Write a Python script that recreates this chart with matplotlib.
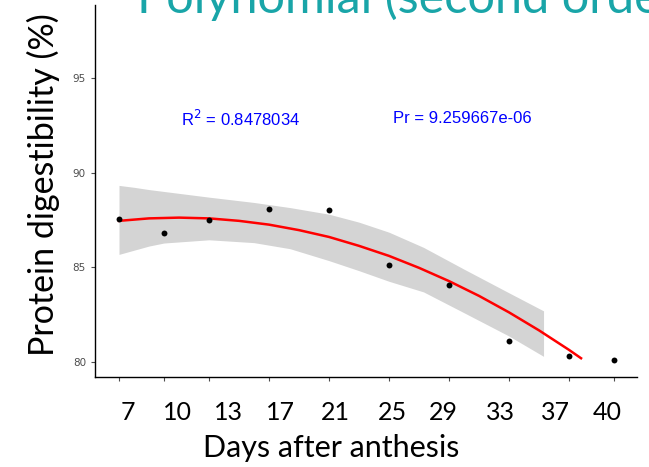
import matplotlib.pyplot as plt
import numpy as np

# observed points
days = [7, 10, 13, 17, 21, 25, 29, 33, 37, 40]
digest = [87.53, 86.79, 87.47, 88.1, 88.0, 85.1, 84.05, 81.1, 80.3, 80.1]

# fitted curve
fit_x = [7, 9, 11, 13, 15, 17, 19, 21, 23, 25, 27, 29, 31, 33, 35, 37, 37.8]
fit_y = [87.45, 87.58, 87.62, 87.58, 87.45, 87.25, 86.96, 86.6, 86.13, 85.6,
         84.97, 84.27, 83.49, 82.62, 81.67, 80.64, 80.2]

# confidence band
band_x = [7, 8, 9, 10, 13, 16, 18.4, 21, 23, 25, 27.3, 30, 33, 35.3]
band_hi = [89.32, 89.22, 89.1, 89.0, 88.7, 88.42, 88.15, 87.8, 87.38, 86.85, 86.05, 84.9, 83.65, 82.7]
band_lo = [85.68, 85.9, 86.12, 86.28, 86.45, 86.3, 85.98, 85.35, 84.82, 84.26, 83.7, 82.6, 81.37, 80.3]

big_labels = ["7", "10", "13", "17", "21", "25", "29", "33", "37", "40"]
big_label_px = [128, 177, 228, 280, 335, 392, 443, 500, 555, 607]

W, H = 649, 467
fig = plt.figure(figsize=(W / 100, H / 100), dpi=100)
ax = fig.add_axes([95 / W, 90 / H, (637 - 95) / W, (377 - 5) / H])

ax.fill_between(band_x, band_lo, band_hi, color='#d4d4d4', lw=0, zorder=1)
ax.plot(fit_x, fit_y, color='red', lw=1.8, zorder=2)
ax.scatter(days, digest, s=18, color='black', zorder=3, lw=0)

ax.set_xlim(5.4, 41.53)
ax.set_ylim(79.21, 98.84)
ax.set_xticks(days)
ax.set_xticklabels([])
ax.set_yticks([80, 85, 90, 95])
ax.tick_params(axis='both', colors='#4d4d4d', length=3, width=0.8, labelsize=7.5,
               labelcolor='#4d4d4d')
for s in ['top', 'right']:
    ax.spines[s].set_visible(False)
for s in ['left', 'bottom']:
    ax.spines[s].set_linewidth(1.0)
    ax.spines[s].set_color('black')

ax.text(15.1, 92.85, r'R$^2$ = 0.8478034', color='blue', ha='center', va='center',
        fontsize=12, family='Liberation Sans')
ax.text(29.9, 92.85, 'Pr = 9.259667e-06', color='blue', ha='center', va='center',
        fontsize=12, family='Liberation Sans')

big = 'Lato'
for lab, px in zip(big_labels, big_label_px):
    fig.text(px / W, 1 - 412 / H, lab, ha='center', va='center', fontsize=18, family=big)
fig.text(331 / W, 1 - 448 / H, 'Days after anthesis', ha='center', va='center',
         fontsize=22, family=big)
fig.text(43 / W, 1 - 185 / H, 'Protein digestibility (%)', ha='center', va='center',
         rotation=90, fontsize=24.5, family=big)
fig.text(137 / W, 1 - 13 / H, 'Polynomial (second order)', ha='left', va='baseline',
         fontsize=35, family=big, color='#19a5a8')

fig.savefig('out.png', dpi=100)
